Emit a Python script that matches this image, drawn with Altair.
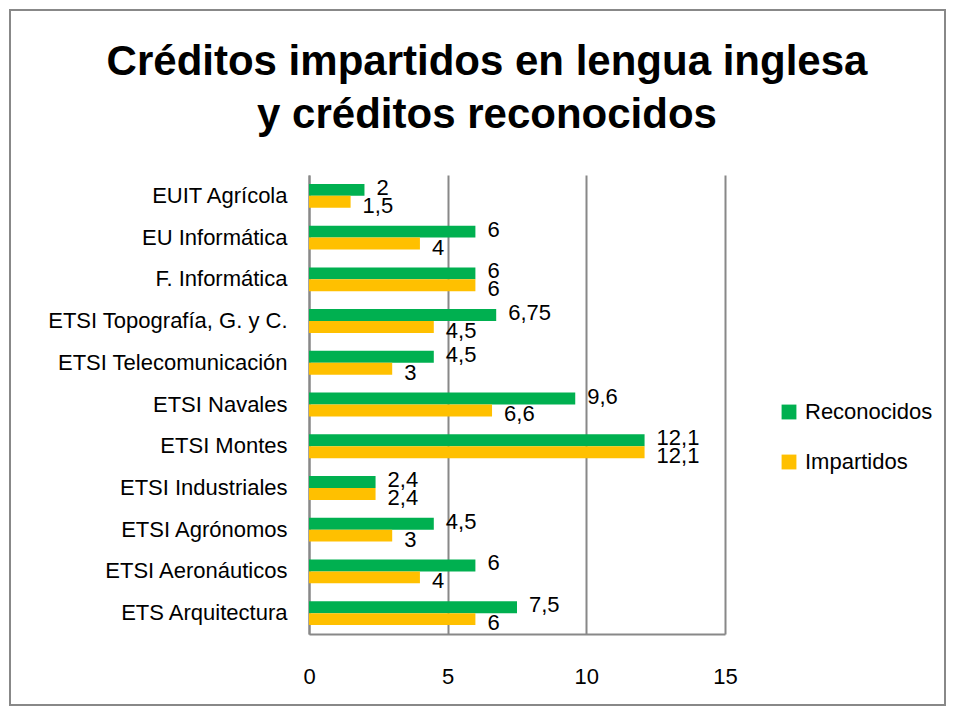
import altair as alt
import pandas as pd

categories = [
    "EUIT Agrícola", "EU Informática", "F. Informática", "ETSI Topografía, G. y C.",
    "ETSI Telecomunicación", "ETSI Navales", "ETSI Montes", "ETSI Industriales",
    "ETSI Agrónomos", "ETSI Aeronáuticos", "ETS Arquitectura",
]
reconocidos = [2, 6, 6, 6.75, 4.5, 9.6, 12.1, 2.4, 4.5, 6, 7.5]
impartidos = [1.5, 4, 6, 4.5, 3, 6.6, 12.1, 2.4, 3, 4, 6]
series = ["Reconocidos", "Impartidos"]
colors = ["#00B050", "#FFC000"]
x_ticks = [0, 5, 10, 15]
title_lines = ["Créditos impartidos en lengua inglesa", "y créditos reconocidos"]

rows = []
for c, r, i in zip(categories, reconocidos, impartidos):
    rows.append({"centro": c, "serie": "Reconocidos", "valor": r})
    rows.append({"centro": c, "serie": "Impartidos", "valor": i})
df = pd.DataFrame(rows)

FONT = "Liberation Sans"

y_enc = alt.Y("centro:N", sort=categories,
              scale=alt.Scale(paddingInner=0.4286, paddingOuter=0.214),
              axis=alt.Axis(title=None, ticks=False, grid=False, labelPadding=22,
                            labelFontSize=22, labelFont=FONT, labelColor="#000000",
                            domainColor="#888888", domainWidth=2, labelLimit=400))
yoff = alt.YOffset("serie:N", sort=series)
x_enc = alt.X("valor:Q", scale=alt.Scale(domain=[0, 15], nice=False),
              axis=alt.Axis(title=None, values=x_ticks, ticks=False, grid=True,
                            gridColor="#888888", gridWidth=2, domainColor="#888888",
                            domainWidth=2, labelPadding=32, labelFontSize=22,
                            labelFlush=False,
                            labelFont=FONT, labelColor="#000000"))

base = alt.Chart(df)

bars = base.mark_bar().encode(
    y=y_enc, yOffset=yoff, x=x_enc,
    color=alt.Color("serie:N", sort=series,
                    scale=alt.Scale(domain=series, range=colors),
                    legend=alt.Legend(title=None, orient="none", legendX=469, legendY=226,
                                      symbolType="square", symbolSize=220,
                                      symbolStrokeWidth=0, labelFontSize=22,
                                      labelFont=FONT, labelColor="#000000",
                                      rowPadding=28, labelOffset=5)),
)

lab_expr = "replace(toString(datum.valor), '.', ',')"
text_g = base.transform_filter("datum.serie == 'Reconocidos'").transform_calculate(
    lab=lab_expr).mark_text(align="left", baseline="middle", dx=12, dy=-2,
                            fontSize=22, font=FONT, color="#000000").encode(
    y=alt.Y("centro:N", sort=categories), yOffset=yoff, x="valor:Q", text="lab:N")
text_y = base.transform_filter("datum.serie == 'Impartidos'").transform_calculate(
    lab=lab_expr).mark_text(align="left", baseline="middle", dx=12, dy=4,
                            fontSize=22, font=FONT, color="#000000").encode(
    y=alt.Y("centro:N", sort=categories), yOffset=yoff, x="valor:Q", text="lab:N")

one = pd.DataFrame({"a": [0]})
border = alt.Chart(one).mark_rect(
    fill="transparent", stroke="#888888", strokeWidth=2).encode(
    x=alt.value(-299), x2=alt.value(636), y=alt.value(-165), y2=alt.value(530))

title = alt.Chart(one).mark_text(
    text=title_lines, align="center", baseline="alphabetic", lineHeight=53,
    font="Liberation Sans Narrow, Liberation Sans", fontSize=42, fontWeight="bold",
    color="#000000").encode(x=alt.value(178), y=alt.value(-100))

chart = alt.layer(border, title, bars, text_g, text_y).properties(
    width=416, height=459,
    autosize=alt.AutoSizeParams(type="none"),
    padding={"left": 301, "top": 167, "right": 222, "bottom": 73},
).configure_view(strokeWidth=0)

chart.save("out.html", embed_options={"renderer": "svg", "actions": False})
